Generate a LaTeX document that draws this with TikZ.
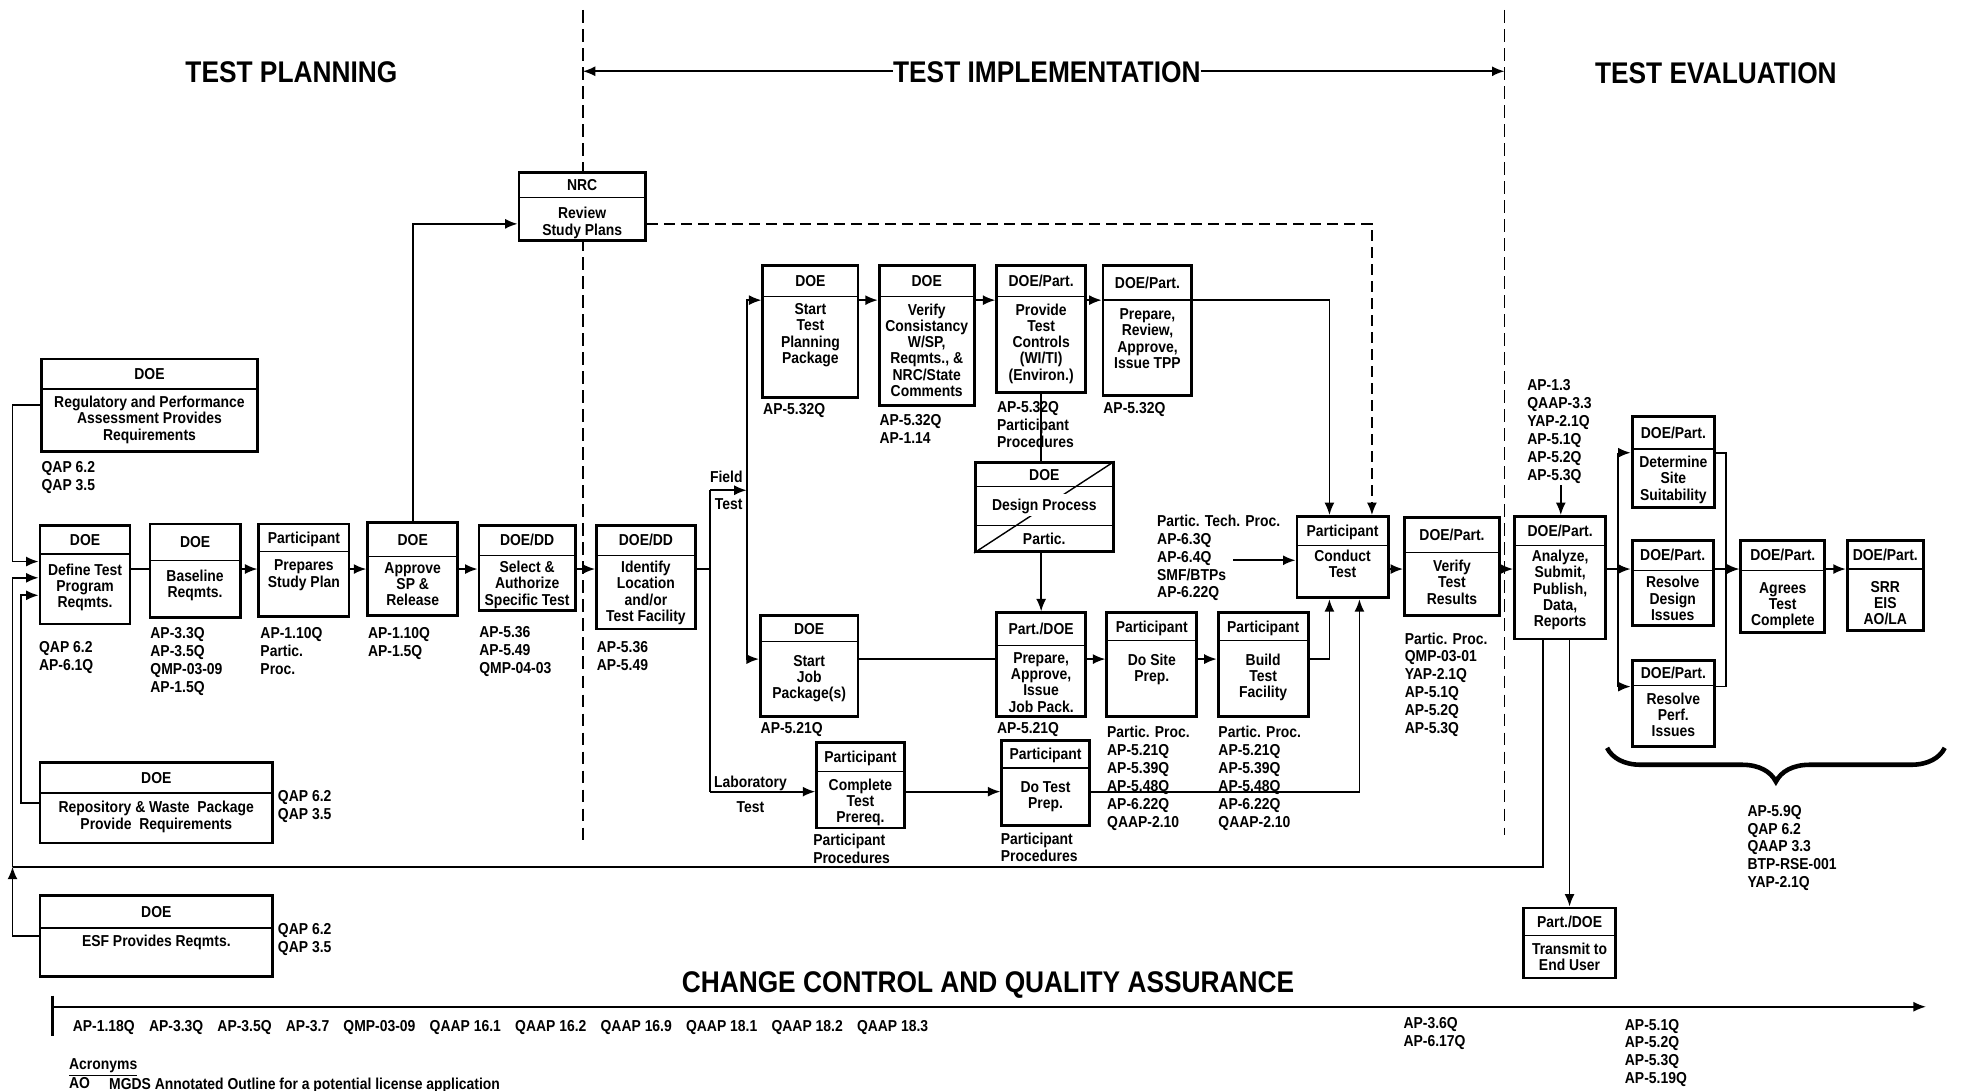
\documentclass[tikz,border=0pt]{standalone}
\usepackage{fontspec}
\setmainfont{Liberation Sans}[FakeStretch=0.88]
\usetikzlibrary{arrows.meta,decorations.pathreplacing}

\newcommand{\bxfont}{\fontsize{9}{9.25}\selectfont\bfseries}
\newcommand{\lsfont}{\fontsize{9}{10.15}\selectfont\bfseries}
\newcommand{\ttlfont}{\fontsize{17}{20}\selectfont\bfseries}
\newcommand{\ntfont}{\fontsize{9}{10}\selectfont\bfseries}

% name, left, top, right, bottom, divider, header, body, first body line
\newcommand{\flowbox}[9]{%
  \node[boxframe, minimum width={(#4-#2)*0.025cm}, minimum height={(#5-#3)*0.025cm}]
    (#1) at ({(#2+#4)/2},{(#3+#5)/2}) {};
  \draw[divider] (#2,#6) -- (#4,#6);
  \node[boxhead] (#1-h) at ({(#2+#4)/2},{(#3+#6)/2}) {#7};
  \node[boxbody] (#1-b) at ({(#2+#4)/2},#9) {#8};
}

\begin{document}
\begin{tikzpicture}[x=0.025cm, y=-0.025cm, >={Latex[length=2.5mm,width=2mm]},
    boxframe/.style={draw, fill=white, line width=1.6pt, inner sep=0pt},
    divider/.style={line width=0.8pt},
    boxhead/.style={font=\bxfont, inner sep=0pt, text height=6.5pt, text depth=0pt},
    boxbody/.style={font=\bxfont, align=center, inner sep=0pt, anchor=north, yshift=0.1125cm},
    refs/.style={font=\lsfont, align=left, inner sep=0pt, anchor=north west, yshift=0.1125cm},
    lbl/.style={font=\lsfont, inner sep=0pt, text height=6.5pt, text depth=0pt},
    phasetitle/.style={font=\ttlfont, inner sep=0pt, text height=12.2pt, text depth=0pt},
    link/.style={line width=1pt},
    flow/.style={link, ->},
    phase/.style={line width=1.1pt, dash pattern=on 2.5mm off 1.3mm},
    bracemark/.style={decorate, decoration={brace, amplitude=0.675cm}, line width=2.6pt}]

    \useasboundingbox (0,0) rectangle (1568,872);

    \node[phasetitle] (tplan) at (233,57) {TEST PLANNING};
    \node[phasetitle] (timp) at (837,57) {TEST IMPLEMENTATION};
    \node[phasetitle] (teval) at (1372,58) {TEST EVALUATION};
    \node[phasetitle] (ccqa) at (790,785) {CHANGE CONTROL AND QUALITY ASSURANCE};
    \draw[phase] (466,8) -- (466,672);
    \draw[phase] (1203,8) -- (1203,668);
    \coordinate (dv1) at (466,57);
    \coordinate (dv2) at (1203,57);
    \draw[flow] (timp.west) -- (dv1);
    \draw[flow] (timp.east) -- (dv2);

    \flowbox{reg}{33}{287}{206}{361}{311}{DOE}{Regulatory and Performance\\Assessment Provides\\Requirements}{321}
    \flowbox{define}{32}{420}{104}{499}{443}{DOE}{Define Test\\Program\\Reqmts.}{455}
    \flowbox{baseline}{120}{419}{192}{494}{448}{DOE}{Baseline\\Reqmts.}{460}
    \flowbox{prepares}{207}{419}{279}{493}{441}{Participant}{Prepares\\Study Plan}{452}
    \flowbox{approve}{294}{418}{366}{492}{445}{DOE}{Approve\\SP \&\\Release}{454}
    \flowbox{select}{383}{420}{460}{488}{444}{DOE/DD}{Select \&\\Authorize\\Specific Test}{453}
    \flowbox{nrc}{415}{138}{516}{192}{158}{NRC}{Review\\Study Plans}{170}
    \flowbox{ident}{477}{420}{556}{503}{444}{DOE/DD}{Identify\\Location\\and/or\\Test Facility}{453}
    \flowbox{rep}{32}{610}{218}{674}{634}{DOE}{Repository \& Waste\ \ Package\\Provide\ \ Requirements}{645}
    \flowbox{esf}{32}{716}{218}{781}{742}{DOE}{ESF Provides Reqmts.}{752}

    \flowbox{stp}{610}{212}{686}{318}{237}{DOE}{Start\\Test\\Planning\\Package}{247}
    \flowbox{verc}{703}{212}{779}{324}{237}{DOE}{Verify\\Consistancy\\W/SP,\\Reqmts., \&\\NRC/State\\Comments}{247}
    \flowbox{provide}{797}{212}{868}{314}{237}{DOE/Part.}{Provide\\Test\\Controls\\(WI/TI)\\(Environ.)}{247}
    \flowbox{review}{882}{212}{953}{316}{240}{DOE/Part.}{Prepare,\\Review,\\Approve,\\Issue TPP}{251}
    \flowbox{sjp}{608}{492}{686}{573}{513}{DOE}{Start\\Job\\Package(s)}{528}
    \flowbox{jobpack}{797}{490}{868}{573}{516}{Part./DOE}{Prepare,\\Approve,\\Issue\\Job Pack.}{526}
    \flowbox{site}{885}{490}{957}{573}{512}{Participant}{Do Site\\Prep.}{527}
    \flowbox{build}{974}{490}{1046}{573}{512}{Participant}{Build\\Test\\Facility}{527}
    \flowbox{complete}{653}{594}{723}{662}{617}{Participant}{Complete\\Test\\Prereq.}{627}
    \flowbox{dotest}{801}{592}{871}{660}{614}{Participant}{Do Test\\Prep.}{629}
    \flowbox{conduct}{1037}{413}{1110}{478}{436}{Participant}{Conduct\\Test}{444}

    \node[boxframe, minimum width=2.75cm, minimum height=1.775cm] (design) at (835,405.5) {};
    \draw[divider] (780,389) -- (890,389);
    \draw[divider] (780,420) -- (890,420);
    \draw[divider] (design.south west) -- (design.north east);
    \node[boxhead] (design-h) at (835,379.5) {DOE};
    \node[boxhead, fill=white, inner xsep=2pt, inner ysep=3pt] (design-b) at (835,404) {Design Process};
    \node[boxhead] (design-p) at (835,430.5) {Partic.};

    \flowbox{vtr}{1123}{414}{1199}{492}{442}{DOE/Part.}{Verify\\Test\\Results}{452}
    \flowbox{analyze}{1211}{413}{1284}{511}{436}{DOE/Part.}{Analyze,\\Submit,\\Publish,\\Data,\\Reports}{444}
    \flowbox{determine}{1305}{333}{1371}{406}{359}{DOE/Part.}{Determine\\Site\\Suitability}{369}
    \flowbox{resdes}{1305}{432}{1370}{500}{456}{DOE/Part.}{Resolve\\Design\\Issues}{465}
    \flowbox{resperf}{1305}{528}{1371}{597}{548}{DOE/Part.}{Resolve\\Perf.\\Issues}{558}
    \flowbox{agrees}{1392}{432}{1459}{506}{456}{DOE/Part.}{Agrees\\Test\\Complete}{470}
    \flowbox{srr}{1477}{432}{1538}{504}{455}{DOE/Part.}{SRR\\EIS\\AO/LA}{469}
    \flowbox{transmit}{1218}{726}{1292}{782}{748}{Part./DOE}{Transmit to\\End User}{758}

    \node[refs] (reg-r) at (33,373) {QAP 6.2\\QAP 3.5};
    \node[refs] (define-r) at (31,517) {QAP 6.2\\AP-6.1Q};
    \node[refs] (baseline-r) at (120,506) {AP-3.3Q\\AP-3.5Q\\QMP-03-09\\AP-1.5Q};
    \node[refs] (prepares-r) at (208,506) {AP-1.10Q\\Partic.\\Proc.};
    \node[refs] (approve-r) at (294,506) {AP-1.10Q\\AP-1.5Q};
    \node[refs] (select-r) at (383,505) {AP-5.36\\AP-5.49\\QMP-04-03};
    \node[refs] (ident-r) at (477,517) {AP-5.36\\AP-5.49};
    \node[refs] (rep-r) at (222,636) {QAP 6.2\\QAP 3.5};
    \node[refs] (esf-r) at (222,743) {QAP 6.2\\QAP 3.5};
    \node[refs] (stp-r) at (610,327) {AP-5.32Q};
    \node[refs] (verc-r) at (703,336) {AP-5.32Q\\AP-1.14};
    \node[refs] (provide-r) at (797,325) {AP-5.32Q\\Participant\\Procedures};
    \node[refs] (review-r) at (882,326) {AP-5.32Q};
    \node[refs] (sjp-r) at (608,582) {AP-5.21Q};
    \node[refs] (jobpack-r) at (797,582) {AP-5.21Q};
    \node[refs] (site-r) at (885,585) {Partic. Proc.\\AP-5.21Q\\AP-5.39Q\\AP-5.48Q\\AP-6.22Q\\QAAP-2.10};
    \node[refs] (build-r) at (974,585) {Partic. Proc.\\AP-5.21Q\\AP-5.39Q\\AP-5.48Q\\AP-6.22Q\\QAAP-2.10};
    \node[refs] (complete-r) at (650,671) {Participant\\Procedures};
    \node[refs] (dotest-r) at (800,670) {Participant\\Procedures};
    \node[refs] (tech-r) at (925,416) {Partic. Tech. Proc.\\AP-6.3Q\\AP-6.4Q\\SMF/BTPs\\AP-6.22Q};
    \node[refs] (vtr-r) at (1123,510) {Partic. Proc.\\QMP-03-01\\YAP-2.1Q\\AP-5.1Q\\AP-5.2Q\\AP-5.3Q};
    \node[refs] (analyze-r) at (1221,308) {AP-1.3\\QAAP-3.3\\YAP-2.1Q\\AP-5.1Q\\AP-5.2Q\\AP-5.3Q};
    \node[refs] (eval-r) at (1397,648) {AP-5.9Q\\QAP 6.2\\QAAP 3.3\\BTP-RSE-001\\YAP-2.1Q};
    \node[refs] (qa-r) at (58,820) {AP-1.18Q\hspace{0.9em}AP-3.3Q\hspace{0.9em}AP-3.5Q\hspace{0.9em}AP-3.7\hspace{0.9em}QMP-03-09\hspace{0.9em}QAAP 16.1\hspace{0.9em}QAAP 16.2\hspace{0.9em}QAAP 16.9\hspace{0.9em}QAAP 18.1\hspace{0.9em}QAAP 18.2\hspace{0.9em}QAAP 18.3};
    \node[refs] (qa-r2) at (1122,818) {AP-3.6Q\\AP-6.17Q};
    \node[refs] (qa-r3) at (1299,819) {AP-5.1Q\\AP-5.2Q\\AP-5.3Q\\AP-5.19Q};
    \node[refs] (acr) at (55,851) {\underline{Acronyms}};
    \node[refs, font=\ntfont] (acr-ao) at (55,866) {AO};
    \node[refs, font=\ntfont] (acr-txt) at (87,866) {MGDS Annotated Outline for a potential license application};

    \node[lbl, anchor=east] (field-a) at (594,381) {Field};
    \node[lbl, anchor=east] (field-b) at (594,403) {Test};
    \node[lbl] (lab-a) at (600,625) {Laboratory};
    \node[lbl] (lab-b) at (600,645) {Test};

    \coordinate (mainrow) at (0,455);
    \coordinate (toprow) at (0,240);
    \coordinate (jobrow) at (0,527);
    \coordinate (labrow) at (0,633);
    \coordinate (nrcrow) at (0,179);
    \coordinate (lx1) at (10,0);
    \coordinate (lx2) at (17,0);
    \coordinate (in1) at (0,449);
    \coordinate (in2) at (0,462);
    \coordinate (in3) at (0,476);
    \coordinate (fbj) at (10,693);
    \coordinate (fbx) at (1234,0);
    \coordinate (brA) at (568,392);
    \coordinate (brB) at (568,633);
    \coordinate (fx) at (597,392);
    \coordinate (ctop1) at (1063,0);
    \coordinate (ctop2) at (1097,0);
    \coordinate (cbot2) at (1087,0);
    \coordinate (techout) at (986,448);
    \coordinate (antop) at (1248,388);
    \coordinate (rA) at (1294,362);
    \coordinate (rB) at (1294,549);
    \coordinate (jA) at (1380,362);
    \coordinate (jB) at (1380,549);
    \coordinate (qa0) at (42,805);
    \coordinate (qa1) at (1540,805);

    \draw[flow] (reg.west) -| (lx1 |- in1) -- (define.west |- in1);
    \draw[flow] (esf.west) -| (fbj);
    \draw[flow] (fbj) |- (define.west |- in2);
    \draw[flow] (rep.west) -| (lx2 |- in3) -- (define.west |- in3);
    \draw[link] (analyze.south -| fbx) |- (fbj);

    \draw[link] (define.east |- mainrow) -- (baseline.west |- mainrow);
    \draw[flow] (baseline.east |- mainrow) -- (prepares.west |- mainrow);
    \draw[flow] (prepares.east |- mainrow) -- (approve.west |- mainrow);
    \draw[flow] (approve.east |- mainrow) -- (select.west |- mainrow);
    \draw[flow] (select.east |- mainrow) -- (ident.west |- mainrow);
    \draw[flow] (approve.north) |- (nrc.west |- nrcrow);
    \draw[flow, dash pattern=on 2.2mm off 1.2mm] (nrc.east |- nrcrow) -| (conduct.north -| ctop2);

    \draw[link] (ident.east |- mainrow) -- (brA |- mainrow);
    \draw[link] (brA) -- (brB);
    \draw[flow] (brA) -- (fx);
    \draw[flow] (fx) |- (stp.west |- toprow);
    \draw[flow] (fx) |- (sjp.west |- jobrow);
    \draw[flow] (brB) -- (complete.west |- labrow);

    \draw[flow] (stp.east |- toprow) -- (verc.west |- toprow);
    \draw[flow] (verc.east |- toprow) -- (provide.west |- toprow);
    \draw[flow] (provide.east |- toprow) -- (review.west |- toprow);
    \draw[flow] (review.east |- toprow) -| (conduct.north -| ctop1);
    \draw[link] (provide.south) -- (provide.south |- design.north);
    \draw[flow] (design.south -| jobpack.north) -- (jobpack.north);

    \draw[link] (sjp.east |- jobrow) -- (jobpack.west |- jobrow);
    \draw[flow] (jobpack.east |- jobrow) -- (site.west |- jobrow);
    \draw[flow] (site.east |- jobrow) -- (build.west |- jobrow);
    \draw[flow] (build.east |- jobrow) -| (conduct.south -| ctop1);
    \draw[flow] (complete.east |- labrow) -- (dotest.west |- labrow);
    \draw[flow] (dotest.east |- labrow) -| (conduct.south -| cbot2);

    \draw[flow] (techout) -- (conduct.west |- techout);
    \draw[flow] (conduct.east |- mainrow) -- (vtr.west |- mainrow);
    \draw[flow] (vtr.east |- mainrow) -- (analyze.west |- mainrow);
    \draw[flow] (antop) -- (analyze.north -| antop);
    \draw[flow] (analyze.south -| transmit.north) -- (transmit.north);

    \draw[link] (analyze.east |- mainrow) -- (rA |- mainrow);
    \draw[link] (rA) -- (rB);
    \draw[flow] (rA) -- (determine.west |- rA);
    \draw[flow] (rA |- mainrow) -- (resdes.west |- mainrow);
    \draw[flow] (rB) -- (resperf.west |- rB);
    \draw[link] (determine.east |- jA) -- (jA) -- (jB) -- (resperf.east |- jB);
    \draw[flow] (resdes.east |- mainrow) -- (agrees.west |- mainrow);
    \draw[flow] (agrees.east |- mainrow) -- (srr.west |- mainrow);

    \draw[bracemark] (1555,598) -- (1285,598);

    \draw[flow] (qa0) -- (qa1);
    \draw[line width=2pt] (42,796) -- (42,828);
\end{tikzpicture}
\end{document}
